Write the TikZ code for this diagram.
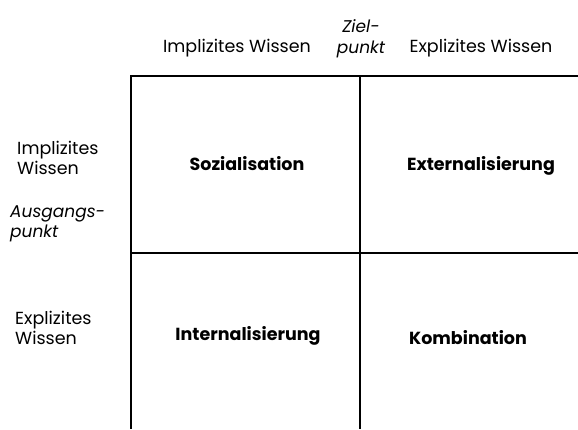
\documentclass[tikz,border=0pt]{standalone}
\usepackage{fontspec}
\setmainfont{Poppins}
\begin{document}
\begin{tikzpicture}[x=1pt,y=-1pt,
  head/.style={font=\fontsize{17.5}{19.5}\selectfont, align=center, inner sep=0pt},
  headit/.style={font=\fontsize{17}{21}\selectfont\itshape, align=center, inner sep=0pt},
  side/.style={font=\fontsize{17.5}{20}\selectfont, align=left, inner sep=0pt, anchor=west},
  sideit/.style={font=\fontsize{17}{20}\selectfont\itshape, align=left, inner sep=0pt, anchor=west},
  cell/.style={font=\fontsize{17.5}{20}\selectfont\bfseries, inner sep=0pt},
  rule/.style={line width=1.2pt, black}]
\useasboundingbox[fill=white] (0,0) rectangle (578,429);

% grid corners
\coordinate (tl) at (131,76);
\coordinate (tm) at (360,76);
\coordinate (tr) at (578,76);
\coordinate (ml) at (131,253);
\coordinate (mr) at (578,253);
\coordinate (bl) at (131,429);
\coordinate (bm) at (360,429);

\draw[rule] (tr) -- (tl) -- (bl);
\draw[rule] (tm) -- (bm);
\draw[rule] (ml) -- (mr);

% column headings
\node[head] (colA) at (237,48) {Implizites Wissen};
\node[headit] (ziel) at (361,39) {Ziel-\\punkt};
\node[head] (colB) at (481,48) {Explizites Wissen};

% row headings
\node[side] (rowA) at (17,158) {Implizites\\Wissen};
\node[sideit] (start) at (10,224) {Ausgangs-\\punkt};
\node[side] (rowB) at (15,328) {Explizites\\Wissen};

% quadrants
\node[cell] (soz) at (247,164) {Sozialisation};
\node[cell] (ext) at (481,166) {Externalisierung};
\node[cell] (int) at (248,336) {Internalisierung};
\node[cell] (kom) at (468,338) {Kombination};
\end{tikzpicture}
\end{document}
